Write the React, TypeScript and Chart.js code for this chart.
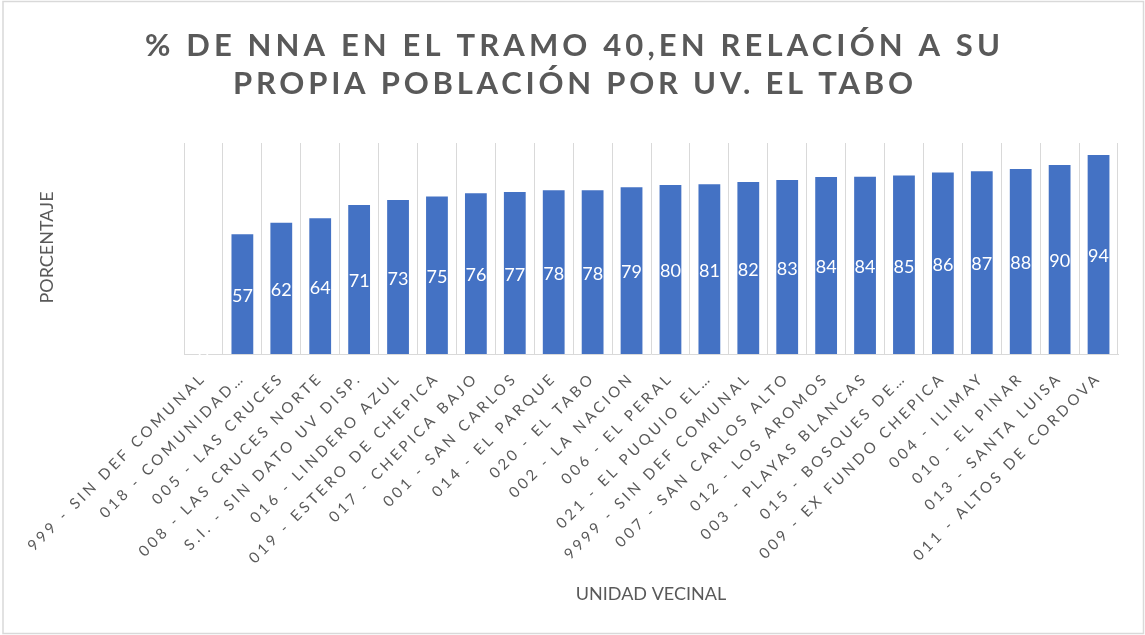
import React, { useEffect, useRef } from "react";
import { Chart, registerables } from "chart.js";

Chart.register(...registerables);

// ---- data ----
const TITLE_LINES = [
  "% DE NNA EN EL TRAMO 40,EN RELACIÓN A SU",
  "PROPIA POBLACIÓN POR UV. EL TABO",
];
const X_TITLE = "UNIDAD VECINAL";
const Y_TITLE = "PORCENTAJE";

const CATEGORIES = [
  "999 - SIN DEF COMUNAL",
  "018 - COMUNIDAD…",
  "005 - LAS CRUCES",
  "008 - LAS CRUCES NORTE",
  "S.I. - SIN DATO UV DISP.",
  "016 - LINDERO AZUL",
  "019 - ESTERO DE CHEPICA",
  "017 - CHEPICA BAJO",
  "001 - SAN CARLOS",
  "014 - EL PARQUE",
  "020 - EL TABO",
  "002 - LA NACION",
  "006 - EL PERAL",
  "021 - EL PUQUIO EL…",
  "9999 - SIN DEF COMUNAL",
  "007 - SAN CARLOS ALTO",
  "012 - LOS AROMOS",
  "003 - PLAYAS BLANCAS",
  "015 - BOSQUES DE…",
  "009 - EX FUNDO CHEPICA",
  "004 - ILIMAY",
  "010 - EL PINAR",
  "013 - SANTA LUISA",
  "011 - ALTOS DE CORDOVA",
];

const VALUES = [
  0, 56.8, 62.2, 64.3, 70.6, 73.0, 74.6, 76.2, 76.8, 77.6, 77.6, 79.0, 80.1,
  80.5, 81.5, 82.5, 83.9, 84.0, 84.6, 86.0, 86.6, 87.7, 89.6, 94.3,
];

const Y_MIN = 0;
const Y_MAX = 100;

// ---- styles ----
const W = 1145;
const H = 635;
const GRAY = "#595959";
const GRID = "#d9d9d9";
const BAR = "#4472C4";
const FONT = "Lato, 'Open Sans', sans-serif";
const TICK_SPACING = "3.3px";

function drawFitted(
  ctx: CanvasRenderingContext2D,
  text: string,
  cx: number,
  baseline: number,
  target: number
) {
  ctx.letterSpacing = "0px";
  const w0 = ctx.measureText(text).width;
  const n = Array.from(text).length;
  const s = n > 1 ? (target - w0) / (n - 1) : 0;
  ctx.letterSpacing = s + "px";
  ctx.textAlign = "left";
  ctx.textBaseline = "alphabetic";
  ctx.fillText(text, cx - target / 2, baseline);
  ctx.letterSpacing = "0px";
}

const decor = {
  id: "decor",
  beforeLayout(chart: any) {
    chart.ctx.letterSpacing = TICK_SPACING;
  },
  beforeDraw(chart: any) {
    const ctx = chart.ctx as CanvasRenderingContext2D;
    ctx.save();
    ctx.fillStyle = "#ffffff";
    ctx.fillRect(0, 0, chart.width, chart.height);
    ctx.restore();
    ctx.letterSpacing = TICK_SPACING;
  },
  afterDatasetsDraw(chart: any) {
    const ctx = chart.ctx as CanvasRenderingContext2D;
    const meta = chart.getDatasetMeta(0);
    ctx.save();
    ctx.letterSpacing = "0px";
    ctx.fillStyle = "#ffffff";
    ctx.font = `18px ${FONT}`;
    ctx.textAlign = "center";
    ctx.textBaseline = "middle";
    meta.data.forEach((bar: any, i: number) => {
      const { x, y, base } = bar.getProps(["x", "y", "base"], true);
      ctx.fillText(String(Math.round(VALUES[i])), x, (y + base) / 2 + 2);
    });
    ctx.restore();
  },
  afterDraw(chart: any) {
    const ctx = chart.ctx as CanvasRenderingContext2D;
    const area = chart.chartArea;
    ctx.save();
    ctx.letterSpacing = "0px";
    // title
    ctx.fillStyle = GRAY;
    ctx.font = `bold 31px ${FONT}`;
    drawFitted(ctx, TITLE_LINES[0], 572.5, 56, 855);
    drawFitted(ctx, TITLE_LINES[1], 573, 94, 680);
    // x title
    ctx.font = `18px ${FONT}`;
    ctx.textAlign = "center";
    ctx.textBaseline = "alphabetic";
    ctx.fillText(X_TITLE, (area.left + area.right) / 2, 600);
    // y title
    ctx.translate(53, 247.5);
    ctx.rotate(-Math.PI / 2);
    ctx.fillText(Y_TITLE, 0, 0);
    ctx.restore();
    // frame
    ctx.save();
    ctx.strokeStyle = GRID;
    ctx.lineWidth = 1.5;
    ctx.strokeRect(3, 1.5, 1140.5, 632);
    ctx.restore();
  },
};

export default function App() {
  const ref = useRef<HTMLCanvasElement | null>(null);

  useEffect(() => {
    document.body.style.margin = "0";
    if (!ref.current) return;
    const chart = new Chart(ref.current, {
      type: "bar",
      data: {
        labels: CATEGORIES,
        datasets: [
          {
            data: VALUES,
            backgroundColor: BAR,
            borderWidth: 0,
            barPercentage: 0.56,
            categoryPercentage: 1,
          },
        ],
      },
      options: {
        responsive: false,
        animation: false,
        layout: { padding: { top: 143, left: 184, right: 27, bottom: 0 } },
        plugins: {
          legend: { display: false },
          title: { display: false },
          tooltip: { enabled: false },
        },
        scales: {
          x: {
            grid: {
              display: true,
              color: GRID,
              lineWidth: 1,
              drawTicks: false,
              offset: true,
            },
            border: { display: true, color: GRID, width: 1 },
            ticks: {
              autoSkip: false,
              minRotation: 45,
              maxRotation: 45,
              padding: 15,
              color: GRAY,
              font: { family: FONT, size: 15 },
            },
            afterFit(scale: any) {
              scale.height = H - 354;
              scale.paddingLeft = 0;
              scale.paddingRight = 0;
            },
          },
          y: {
            display: false,
            min: Y_MIN,
            max: Y_MAX,
          },
        },
      },
      plugins: [decor],
    } as any);
    return () => chart.destroy();
  }, []);

  return (
    <div style={{ position: "absolute", left: 0, top: 0, width: W, height: H }}>
      <canvas ref={ref} width={W} height={H} />
    </div>
  );
}
